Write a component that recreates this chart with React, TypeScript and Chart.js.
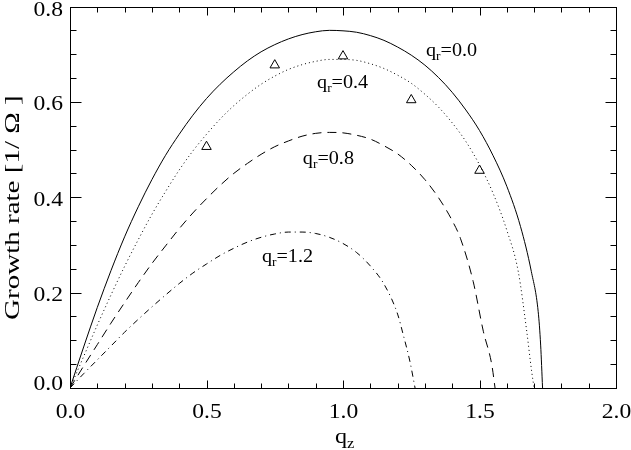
import React, { useEffect, useRef } from 'react';
import { Chart, registerables } from 'chart.js';

Chart.register(...registerables);

// ---- axis ticks ----
const xTickValues = [0, 0.5, 1.0, 1.5, 2.0];
const xTickLabels = ['0.0', '0.5', '1.0', '1.5', '2.0'];
const yTickValues = [0, 0.2, 0.4, 0.6, 0.8];
const yTickLabels = ['0.0', '0.2', '0.4', '0.6', '0.8'];

// ---- curves (growth rate vs q_z) ----
const qzQr00 = [0, 0.05, 0.1, 0.15, 0.2, 0.25, 0.3, 0.35, 0.4, 0.45, 0.5, 0.55, 0.6, 0.65, 0.7, 0.75, 0.8, 0.85, 0.9, 0.95, 1.0, 1.05, 1.1, 1.15, 1.2, 1.25, 1.3, 1.35, 1.4, 1.45, 1.5, 1.55, 1.6, 1.65, 1.69, 1.715, 1.724, 1.731];
const growthQr00 = [0, 0.086, 0.169, 0.246, 0.317, 0.380, 0.437, 0.488, 0.532, 0.572, 0.607, 0.637, 0.663, 0.686, 0.705, 0.720, 0.732, 0.741, 0.747, 0.750, 0.749, 0.746, 0.739, 0.729, 0.715, 0.698, 0.677, 0.651, 0.620, 0.583, 0.540, 0.487, 0.423, 0.339, 0.244, 0.160, 0.090, 0];

const qzQr04 = [0, 0.05, 0.1, 0.15, 0.2, 0.25, 0.3, 0.35, 0.4, 0.45, 0.5, 0.55, 0.6, 0.65, 0.7, 0.75, 0.8, 0.85, 0.9, 0.95, 1.0, 1.05, 1.1, 1.15, 1.2, 1.25, 1.3, 1.35, 1.4, 1.45, 1.5, 1.55, 1.6, 1.642, 1.673, 1.691, 1.70];
const growthQr04 = [0, 0.066, 0.132, 0.195, 0.255, 0.311, 0.364, 0.412, 0.457, 0.497, 0.532, 0.564, 0.592, 0.616, 0.637, 0.654, 0.668, 0.678, 0.685, 0.689, 0.689, 0.687, 0.680, 0.670, 0.656, 0.639, 0.616, 0.589, 0.556, 0.517, 0.468, 0.408, 0.331, 0.244, 0.119, 0.035, 0];

const qzQr08 = [0, 0.05, 0.1, 0.15, 0.2, 0.25, 0.3, 0.35, 0.4, 0.45, 0.5, 0.55, 0.6, 0.65, 0.7, 0.75, 0.8, 0.85, 0.9, 0.95, 1.0, 1.05, 1.1, 1.15, 1.2, 1.25, 1.3, 1.35, 1.4, 1.43, 1.477, 1.514, 1.545, 1.557];
const growthQr08 = [0, 0.046, 0.091, 0.136, 0.179, 0.221, 0.261, 0.298, 0.334, 0.367, 0.397, 0.425, 0.450, 0.471, 0.490, 0.506, 0.518, 0.528, 0.534, 0.536, 0.535, 0.530, 0.522, 0.508, 0.491, 0.467, 0.437, 0.399, 0.351, 0.314, 0.223, 0.119, 0.049, 0];

const qzQr12 = [0, 0.05, 0.1, 0.15, 0.2, 0.25, 0.3, 0.35, 0.4, 0.45, 0.5, 0.55, 0.6, 0.65, 0.7, 0.75, 0.8, 0.85, 0.9, 0.95, 1.0, 1.05, 1.1, 1.15, 1.2, 1.22, 1.245, 1.264];
const growthQr12 = [0, 0.030, 0.059, 0.088, 0.117, 0.144, 0.170, 0.195, 0.219, 0.241, 0.260, 0.278, 0.293, 0.306, 0.316, 0.323, 0.327, 0.327, 0.324, 0.316, 0.303, 0.284, 0.256, 0.218, 0.155, 0.113, 0.056, 0];

// ---- simulation points (triangles) ----
const simQz = [0.5, 0.75, 1.0, 1.25, 1.5];
const simGrowth = [0.506, 0.677, 0.696, 0.604, 0.456];

// ---- curve labels ----
const curveLabelValues = ['0.0', '0.4', '0.8', '1.2'];
const curveLabelAnchors = [
  { qz: 1.304, g: 0.696 },
  { qz: 0.905, g: 0.629 },
  { qz: 0.853, g: 0.469 },
  { qz: 0.703, g: 0.265 },
];

const SERIF = '"Liberation Serif", "Times New Roman", serif';

function pts(xs: number[], ys: number[]) {
  return xs.map((x, i) => ({ x, y: ys[i] }));
}

// text drawn with a horizontal stretch factor sx (glyphs in the reference are wide)
function stretchText(
  ctx: CanvasRenderingContext2D,
  text: string,
  x: number,
  y: number,
  size: number,
  sx: number,
  align: CanvasTextAlign
) {
  ctx.save();
  ctx.font = `${size}px ${SERIF}`;
  ctx.textAlign = align;
  ctx.textBaseline = 'alphabetic';
  ctx.translate(x, y);
  ctx.scale(sx, 1);
  ctx.fillText(text, 0, 0);
  const w = ctx.measureText(text).width * sx;
  ctx.restore();
  return w;
}

function drawSubText(
  ctx: CanvasRenderingContext2D,
  x: number,
  y: number,
  main: string,
  sub: string,
  rest: string,
  size: number,
  sx: number
) {
  let cx = x;
  cx += stretchText(ctx, main, cx, y, size, sx, 'left');
  const subSize = Math.round(size * 0.68);
  cx += stretchText(ctx, sub, cx, y + size * 0.22, subSize, sx, 'left');
  if (rest) stretchText(ctx, rest, cx, y, size, sx, 'left');
}

const framePlugin = {
  id: 'framePlugin',
  afterDatasetsDraw(chart: any) {
    const { ctx, chartArea: a, scales } = chart;
    const xs = scales.x;
    const ys = scales.y;
    ctx.save();
    ctx.strokeStyle = '#000';
    ctx.fillStyle = '#000';
    ctx.lineWidth = 1;
    const L = Math.round(a.left) + 0.5;
    const R = Math.round(a.right) + 0.5;
    const T = Math.round(a.top) + 0.5;
    const B = Math.round(a.bottom) + 0.5;
    ctx.strokeRect(L, T, R - L, B - T);

    ctx.beginPath();
    for (let i = 0; i <= 20; i++) {
      const px = Math.round(xs.getPixelForValue(i / 10)) + 0.5;
      const len = i % 5 === 0 ? 8 : 5;
      ctx.moveTo(px, B);
      ctx.lineTo(px, B - len);
      ctx.moveTo(px, T);
      ctx.lineTo(px, T + len);
    }
    for (let i = 0; i <= 16; i++) {
      const py = Math.round(ys.getPixelForValue(i * 0.05)) + 0.5;
      const len = i % 4 === 0 ? 11 : 6;
      ctx.moveTo(L, py);
      ctx.lineTo(L + len, py);
      ctx.moveTo(R, py);
      ctx.lineTo(R - len, py);
    }
    ctx.stroke();

    // tick labels
    xTickValues.forEach((v, i) => {
      stretchText(ctx, xTickLabels[i], xs.getPixelForValue(v) + 0.5, 418, 20, 1.18, 'center');
    });
    yTickValues.forEach((v, i) => {
      const py = ys.getPixelForValue(v);
      const base = Math.min(389.5, Math.max(16, py + 8.5));
      stretchText(ctx, yTickLabels[i], 63, base, 20, 1.18, 'right');
    });

    // x title
    drawSubText(ctx, 335, 443, 'q', 'z', '', 22, 1.1);

    // y title
    ctx.save();
    ctx.translate(19, 320);
    ctx.rotate(-Math.PI / 2);
    stretchText(ctx, 'Growth rate [1/ \u03A9 ]', 0, 0, 22, 1.32, 'left');
    ctx.restore();

    // curve labels
    curveLabelAnchors.forEach((p, i) => {
      const px = xs.getPixelForValue(p.qz);
      const py = ys.getPixelForValue(p.g);
      drawSubText(ctx, px, py, 'q', 'r', '=' + curveLabelValues[i], 18, 1.12);
    });
    ctx.restore();
  },
};

export default function App() {
  const ref = useRef<HTMLCanvasElement | null>(null);
  useEffect(() => {
    document.body.style.margin = '0';
    const canvas = ref.current;
    if (!canvas) return;
    const lineBase = {
      showLine: true,
      pointRadius: 0,
      borderColor: '#000',
      borderWidth: 1,
      fill: false,
      cubicInterpolationMode: 'monotone' as const,
    };
    const chart = new Chart(canvas, {
      type: 'scatter',
      data: {
        datasets: [
          { ...lineBase, label: 'qr=0.0', data: pts(qzQr00, growthQr00), borderDash: [] },
          { ...lineBase, label: 'qr=0.4', data: pts(qzQr04, growthQr04), borderDash: [1, 3] },
          { ...lineBase, label: 'qr=0.8', data: pts(qzQr08, growthQr08), borderDash: [9, 6] },
          { ...lineBase, label: 'qr=1.2', data: pts(qzQr12, growthQr12), borderDash: [6, 4, 1, 4] },
          {
            label: 'simulation',
            data: pts(simQz, simGrowth),
            showLine: false,
            pointStyle: 'triangle',
            pointRadius: 5.5,
            pointBorderWidth: 1,
            pointBorderColor: '#000',
            pointBackgroundColor: 'rgba(0,0,0,0)',
          },
        ],
      },
      options: {
        responsive: false,
        animation: false,
        devicePixelRatio: 1,
        layout: { padding: { left: 70, right: 15, top: 3, bottom: 62 } },
        plugins: { legend: { display: false }, tooltip: { enabled: false } },
        scales: {
          x: { type: 'linear', min: 0, max: 2, display: false },
          y: { type: 'linear', min: 0, max: 0.8, display: false },
        },
      },
      plugins: [framePlugin],
    });
    return () => chart.destroy();
  }, []);
  return (
    <div style={{ width: 631, height: 450, background: '#fff' }}>
      <canvas ref={ref} width={631} height={450} style={{ display: 'block' }} />
    </div>
  );
}
